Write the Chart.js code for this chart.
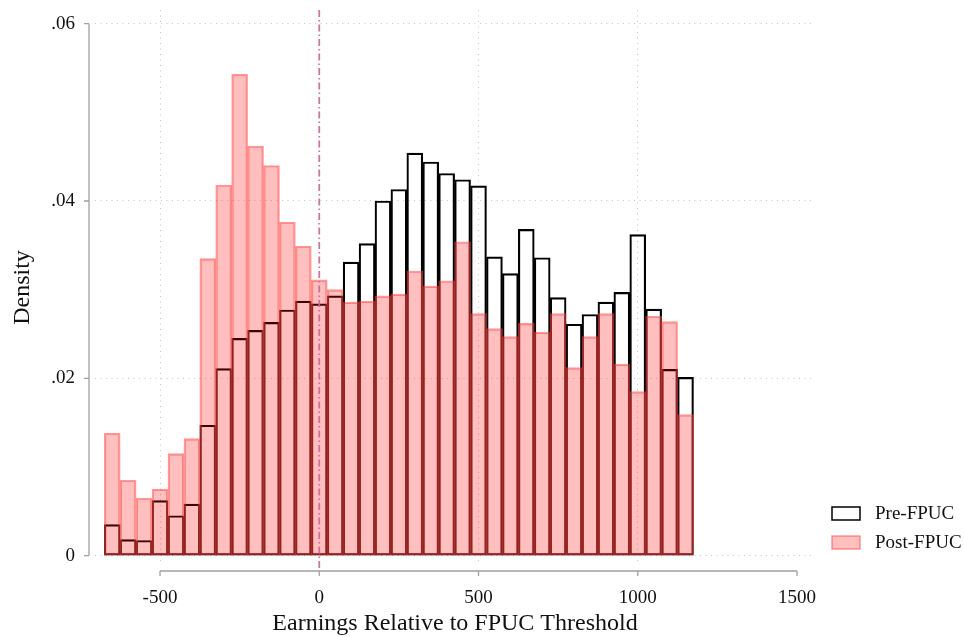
<!DOCTYPE html>
<html>
<head>
<meta charset="utf-8">
<title>Earnings relative to FPUC threshold</title>
<script src="https://cdn.jsdelivr.net/npm/chart.js@4/dist/chart.umd.min.js"></script>
<style>
  html, body { margin: 0; padding: 0; background: #fff; }
  #grafico { display: block; }
</style>
</head>
<body>
<canvas id="grafico" width="964" height="637"></canvas>
<script>
// centros de cada intervalo (ancho 50)
const centros = [-650, -600, -550, -500, -450, -400, -350, -300, -250, -200, -150, -100, -50,
  0, 50, 100, 150, 200, 250, 300, 350, 400, 450, 500, 550, 600, 650, 700, 750, 800, 850,
  900, 950, 1000, 1050, 1100, 1150];

// densidad antes de FPUC
const densidadPre = [0.0035, 0.0018, 0.0017, 0.0062, 0.0045, 0.0058, 0.0147, 0.0211, 0.0245,
  0.0254, 0.0263, 0.0277, 0.0287, 0.0284, 0.0293, 0.0331, 0.0352, 0.0400, 0.0413, 0.0454,
  0.0444, 0.0431, 0.0424, 0.0417, 0.0337, 0.0318, 0.0368, 0.0336, 0.0291, 0.0261, 0.0272,
  0.0286, 0.0297, 0.0362, 0.0278, 0.0210, 0.0201];

// densidad después de FPUC
const densidadPost = [0.0138, 0.0085, 0.0065, 0.0075, 0.0115, 0.0132, 0.0335, 0.0418, 0.0543,
  0.0462, 0.0440, 0.0376, 0.0349, 0.0311, 0.0300, 0.0286, 0.0287, 0.0293, 0.0295, 0.0321,
  0.0304, 0.0310, 0.0354, 0.0273, 0.0256, 0.0247, 0.0262, 0.0252, 0.0273, 0.0212, 0.0247,
  0.0273, 0.0216, 0.0185, 0.0270, 0.0264, 0.0159];

const ticksX = [-500, 0, 500, 1000, 1500];
const gridX = [-500, 500, 1000];
const ticksY = [0, 0.02, 0.04, 0.06];
const umbral = 0;

const nombres = ["Pre-FPUC", "Post-FPUC"];

const fuente = "'Liberation Serif', 'Times New Roman', serif";
const colorEje = "#a0a0a0";
const colorGrid = "#c4c4c4";

function etiquetaY(v) {
  if (v === 0) return "0";
  return v.toFixed(2).replace(/^0/, "");
}

// sin relleno extra por las etiquetas de los extremos
function sinRelleno(s) {
  s.paddingTop = 0;
  s.paddingBottom = 0;
  s.paddingLeft = 0;
  s.paddingRight = 0;
}

// ejes al estilo Stata, separados del área del gráfico, línea de umbral y leyenda
const extras = {
  id: "extras",
  afterDatasetsDraw(chart) {
    const { ctx, chartArea, scales } = chart;
    const x = scales.x, y = scales.y;
    ctx.save();

    // línea vertical en el umbral
    ctx.strokeStyle = "rgba(205, 100, 150, 0.9)";
    ctx.lineWidth = 1.8;
    ctx.setLineDash([7, 3, 1.5, 3]);
    const xu = x.getPixelForValue(umbral);
    ctx.beginPath();
    ctx.moveTo(xu, chartArea.top);
    ctx.lineTo(xu, chartArea.bottom + 4);
    ctx.stroke();
    ctx.setLineDash([]);

    // eje Y
    ctx.strokeStyle = colorEje;
    ctx.lineWidth = 1.3;
    const ex = chartArea.left - 6;
    ctx.beginPath();
    ctx.moveTo(ex, y.getPixelForValue(ticksY[ticksY.length - 1]));
    ctx.lineTo(ex, y.getPixelForValue(ticksY[0]));
    ticksY.forEach((t) => {
      const py = y.getPixelForValue(t);
      ctx.moveTo(ex, py);
      ctx.lineTo(ex - 5, py);
    });
    ctx.stroke();

    // eje X
    const ey = chartArea.bottom + 6;
    ctx.beginPath();
    ctx.moveTo(x.getPixelForValue(ticksX[0]), ey);
    ctx.lineTo(x.getPixelForValue(ticksX[ticksX.length - 1]), ey);
    ticksX.forEach((t) => {
      const px = x.getPixelForValue(t);
      ctx.moveTo(px, ey);
      ctx.lineTo(px, ey + 5);
    });
    ctx.stroke();

    // leyenda
    const lx = chartArea.right + 17;
    const filas = [chartArea.bottom - 51, chartArea.bottom - 22];
    chart.data.datasets.forEach((ds, i) => {
      const top = filas[i] - 7;
      ctx.fillStyle = ds.backgroundColor === "rgba(0,0,0,0)" ? "#fff" : ds.backgroundColor;
      ctx.fillRect(lx, top, 28, 13);
      ctx.strokeStyle = ds.borderColor;
      ctx.lineWidth = 1.5;
      ctx.strokeRect(lx, top, 28, 13);
      ctx.fillStyle = "#111";
      ctx.font = "19px " + fuente;
      ctx.textBaseline = "middle";
      ctx.textAlign = "left";
      ctx.fillText(ds.label, lx + 43, filas[i]);
    });

    ctx.restore();
  },
};

const ctx = document.getElementById("grafico").getContext("2d");

new Chart(ctx, {
  type: "bar",
  data: {
    datasets: [
      {
        label: nombres[0],
        data: centros.map((c, i) => ({ x: c, y: densidadPre[i] })),
        backgroundColor: "rgba(0,0,0,0)",
        borderColor: "#000",
        borderWidth: 1.5,
        borderSkipped: false,
        order: 1,
      },
      {
        label: nombres[1],
        data: centros.map((c, i) => ({ x: c, y: densidadPost[i] })),
        backgroundColor: "rgba(255, 0, 0, 0.25)",
        borderColor: "rgba(255, 70, 70, 0.55)",
        borderWidth: 1.5,
        borderSkipped: false,
        order: 0,
      },
    ],
  },
  options: {
    responsive: false,
    animation: false,
    grouped: false,
    barPercentage: 1,
    categoryPercentage: 1,
    layout: { padding: { left: 0, right: 149, top: 10, bottom: 0 } },
    plugins: {
      legend: { display: false },
      tooltip: { enabled: false },
    },
    scales: {
      x: {
        type: "linear",
        min: -704.1,
        max: 1556.5,
        offset: false,
        afterFit: (s) => { s.height = 72; sinRelleno(s); },
        afterBuildTicks: (s) => { s.ticks = ticksX.map((v) => ({ value: v })); },
        grid: {
          offset: false,
          drawTicks: false,
          lineWidth: 1,
          color: (c) => (c.tick && gridX.includes(c.tick.value) ? colorGrid : "rgba(0,0,0,0)"),
        },
        border: { display: false, dash: [1, 4.5] },
        ticks: {
          padding: 22,
          color: "#111",
          font: { family: fuente, size: 19, lineHeight: 1.2 },
          maxRotation: 0,
          callback: (v) => String(v),
        },
        title: {
          display: true,
          text: "Earnings Relative to FPUC Threshold",
          color: "#111",
          font: { family: fuente, size: 24, lineHeight: 1 },
          padding: { top: 0, bottom: 1 },
        },
      },
      y: {
        min: -0.00106,
        max: 0.061545,
        afterFit: (s) => { s.width = 95; sinRelleno(s); },
        afterBuildTicks: (s) => { s.ticks = ticksY.map((v) => ({ value: v })); },
        grid: { drawTicks: false, color: colorGrid, lineWidth: 1 },
        border: { display: false, dash: [1, 4.5] },
        ticks: {
          padding: 20,
          color: "#111",
          font: { family: fuente, size: 19 },
          callback: (v) => etiquetaY(v),
        },
        title: {
          display: true,
          text: "Density",
          color: "#111",
          font: { family: fuente, size: 24, lineHeight: 1 },
          padding: { top: 11, bottom: 0 },
        },
      },
    },
  },
  plugins: [extras],
});
</script>
</body>
</html>
